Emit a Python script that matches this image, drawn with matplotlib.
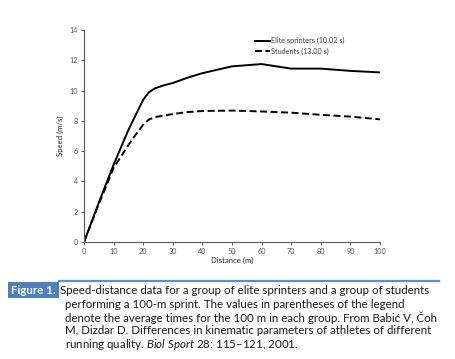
import matplotlib.pyplot as plt
from matplotlib.patches import Rectangle
from matplotlib.lines import Line2D

plt.rcParams['font.family'] = ['Lato', 'DejaVu Sans']
plt.rcParams['mathtext.fontset'] = 'custom'
plt.rcParams['mathtext.rm'] = 'Lato'
plt.rcParams['mathtext.it'] = 'Lato:italic'

distance = [0, 5, 10, 15, 17.5, 20, 22, 24, 27, 30, 35, 40, 50, 60, 70, 80, 90, 100]
elite = [0, 2.6, 5.1, 7.4, 8.4, 9.4, 9.9, 10.15, 10.35, 10.5, 10.85, 11.15, 11.6, 11.75, 11.45, 11.45, 11.3, 11.2]
students = [0, 2.5, 4.9, 6.4, 7.1, 7.75, 8.1, 8.25, 8.35, 8.45, 8.58, 8.65, 8.68, 8.62, 8.54, 8.4, 8.28, 8.1]
labels = ['Elite sprinters (10.02 s)', 'Students (13.00 s)']
xticks = list(range(0, 101, 10))
yticks = list(range(0, 15, 2))

caption_lines = [
    "Speed-distance data for a group of elite sprinters and a group of students",
    "performing a 100-m sprint. The values in parentheses of the legend",
    "denote the average times for the 100 m in each group. From Babić V, Čoh",
    "M, Dizdar D. Differences in kinematic parameters of athletes of different",
    r"running quality. $\it{Biol\ Sport}$ 28: 115–121, 2001.",
]

W, H = 455, 359
fig = plt.figure(figsize=(W / 100, H / 100), dpi=100)
ax = fig.add_axes([84 / W, 1 - 242 / H, (380 - 84) / W, (242 - 30) / H])

ax.plot(distance, elite, color='black', lw=1.4, label=labels[0])
ax.plot(distance, students, color='black', lw=1.4, linestyle=(0, (3.6, 1.8)), label=labels[1])

ax.set_xlim(0, 100)
ax.set_ylim(0, 14)
ax.set_xticks(xticks)
ax.set_yticks(yticks)
for s in ['top', 'right']:
    ax.spines[s].set_visible(False)
for s in ['left', 'bottom']:
    ax.spines[s].set_color('#595959')
    ax.spines[s].set_linewidth(0.8)
ax.tick_params(labelsize=5.2, colors='#595959', length=2.5, width=0.7, pad=2)
ax.set_xlabel('Distance (m)', fontsize=5.6, color='#262626', labelpad=1)
ax.set_ylabel('Speed (m/s)', fontsize=5.6, color='#262626', labelpad=4)

leg = ax.legend(loc='upper left', bbox_to_anchor=((255 - 84) / (380 - 84), 1 - (37 - 30) / 212),
                fontsize=5.2, frameon=False, handlelength=2.1, handletextpad=0.05,
                labelspacing=0.45, borderpad=0, borderaxespad=0)
for t in leg.get_texts():
    t.set_color('#404040')

# caption
fig.add_artist(Line2D([59 / W, 439 / W], [1 - 281 / H, 1 - 281 / H], color='#5b8ed6', lw=1.6))
fig.add_artist(Rectangle((8 / W, 1 - 298 / H), 51 / W, 16 / H, facecolor='#4f7fbf',
                         edgecolor='none', transform=fig.transFigure))
fig.text(33.5 / W, 1 - 290.5 / H, 'Figure 1.', color='white', fontsize=8.3, fontweight='bold',
         ha='center', va='center')
ys = [290.5, 304, 317.5, 331, 345]
for i, line in enumerate(caption_lines):
    x0 = 60 if i == 0 else 65
    fig.text(x0 / W, 1 - ys[i] / H, line, fontsize=8.3, color='#1a1a1a', ha='left', va='center')

fig.savefig('out.png', dpi=100)
